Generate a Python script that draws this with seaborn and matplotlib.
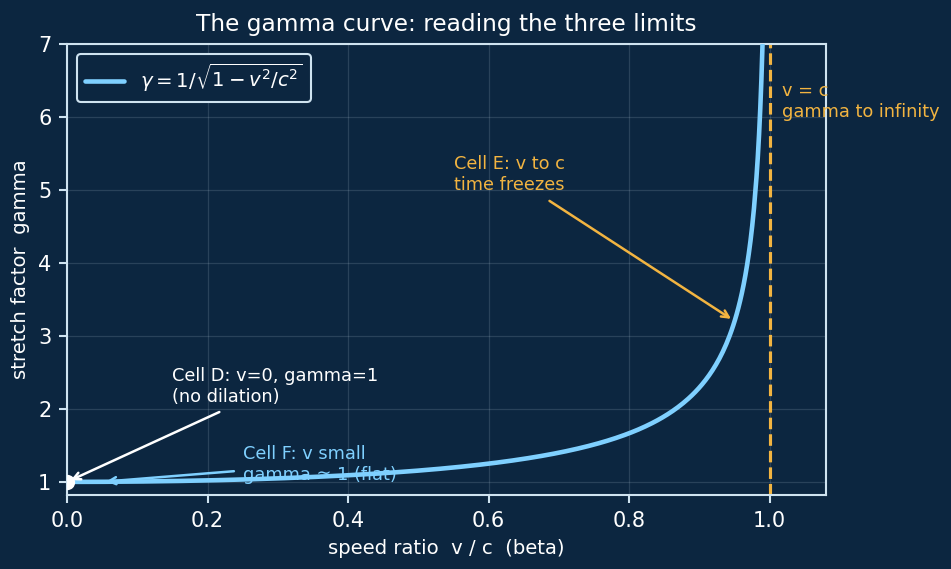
import numpy as np
import pandas as pd
import matplotlib
matplotlib.use("Agg")
import matplotlib.pyplot as plt
import seaborn as sns

# ---- data ----
beta = np.concatenate([np.linspace(0.0, 0.98, 400), np.linspace(0.98, 0.995, 300)])
gamma = 1.0 / np.sqrt(1.0 - beta ** 2)
xticks = [0.0, 0.2, 0.4, 0.6, 0.8, 1.0]
yticks = [1, 2, 3, 4, 5, 6, 7]
title = "The gamma curve: reading the three limits"
xlabel = "speed ratio  v / c  (beta)"
ylabel = "stretch factor  gamma"
legend_label = r"$\gamma = 1/\sqrt{1 - v^2/c^2}$"

BG = "#0c2640"
CURVE = "#7fd0ff"
ORANGE = "#f2b441"
LIGHT = "#cfe3f0"
WHITE = "#ffffff"

sns.set_theme(style="dark")
plt.rcParams["font.family"] = ["DejaVu Sans"]

fig = plt.figure(figsize=(951 / 150, 569 / 150), dpi=150, facecolor=BG)
ax = fig.add_axes([0.0705, 0.130, 0.798, 0.7927])
ax.set_facecolor(BG)

df = pd.DataFrame({"beta": beta, "gamma": gamma})
sns.lineplot(data=df, x="beta", y="gamma", ax=ax, color=CURVE, linewidth=2.2,
             label=legend_label, zorder=3)

ax.axvline(1.0, color=ORANGE, linestyle="--", linewidth=1.5, zorder=2)

ax.set_xlim(0, 1.08)
ax.set_ylim(0.82, 7)
ax.set_xticks(xticks)
ax.set_yticks(yticks)
ax.grid(True, color=LIGHT, alpha=0.15, linewidth=0.6)

for s in ax.spines.values():
    s.set_color(LIGHT)
    s.set_linewidth(1.0)
    s.set_visible(True)
ax.tick_params(colors=WHITE, labelsize=10, length=4, width=1, color=LIGHT, bottom=True, left=True)

ax.set_title(title, color=WHITE, fontsize=11.2)
ax.set_xlabel(xlabel, color=WHITE, fontsize=9.4)
ax.set_ylabel(ylabel, color=WHITE, fontsize=9.4)

# origin point
ax.scatter([0.0], [1.0], color=WHITE, s=40, zorder=5, clip_on=True)

ax.annotate("Cell D: v=0, gamma=1\n(no dilation)", xy=(0.0, 1.0), xytext=(0.15, 2.1),
            color=WHITE, fontsize=8.5,
            arrowprops=dict(arrowstyle="->", color=WHITE, lw=1.2))
ax.annotate("Cell F: v small\ngamma \u2248 1 (flat)", xy=(0.05, 1.0012), xytext=(0.25, 1.03),
            color=CURVE, fontsize=8.5,
            arrowprops=dict(arrowstyle="->", color=CURVE, lw=1.2))
ax.annotate("Cell E: v to c\ntime freezes", xy=(0.95, 3.2026), xytext=(0.55, 5.0),
            color=ORANGE, fontsize=8.5,
            arrowprops=dict(arrowstyle="->", color=ORANGE, lw=1.2))
ax.text(1.017, 6.0, "v = c\ngamma to infinity", color=ORANGE, fontsize=8.5)

leg = ax.legend(loc="upper left", facecolor=BG, edgecolor=LIGHT, fontsize=9.5,
                framealpha=1.0, fancybox=True)
for t in leg.get_texts():
    t.set_color(WHITE)

fig.savefig("out.png", dpi=150, facecolor=BG)
